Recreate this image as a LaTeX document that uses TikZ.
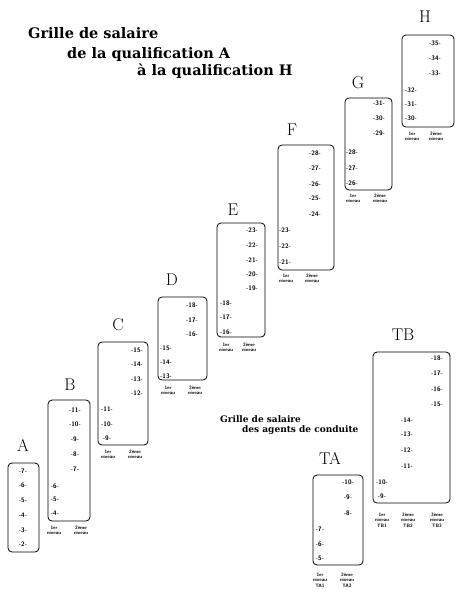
\documentclass[tikz,border=0pt]{standalone}
\usepackage{fontspec}
\newfontfamily\titrefont{DejaVu Serif}
\tikzset{
  cadre/.style={draw=black, line width=0.8pt, rounded corners=4pt},
  echelon/.style={font=\fontsize{6.5}{6.5}\selectfont\sffamily\bfseries, inner sep=0pt},
  niveau/.style={font=\fontsize{4.8}{5.2}\selectfont\sffamily\bfseries, align=center, anchor=north, inner sep=0pt},
  lettre/.style={font=\fontsize{17}{17}\selectfont, inner sep=0pt},
  titre/.style={font=\fontsize{14.5}{14.5}\selectfont\titrefont\bfseries, anchor=mid west, inner sep=0pt},
  soustitre/.style={font=\fontsize{9}{9}\selectfont\titrefont\bfseries, anchor=mid west, inner sep=0pt},
}
% boite d'une qualification : coin haut gauche, coin bas droit
\newcommand{\grille}[4]{\draw[cadre] (#1,#2) rectangle (#3,#4);}
% echelon : qualification, x, y, numero
\newcommand{\ech}[4]{\node[echelon] (#1e#4) at (#2,#3) {-#4-};}
% niveau sous la boite : nom, x, y, texte
\newcommand{\niv}[4]{\node[niveau] (#1) at (#2,#3) {#4};}

\begin{document}
\begin{tikzpicture}[x=1pt,y=-1pt]
\useasboundingbox (0,0) rectangle (463,598);
% titres
\node[titre] (t1) at (28,36) {Grille de salaire};
\node[titre] (t2) at (67,56) {de la qualification A};
\node[titre] (t3) at (137,73) {à la qualification H};
\node[soustitre] (s1) at (220,420) {Grille de salaire};
\node[soustitre] (s2) at (242,430) {des agents de conduite};
% A
\node[lettre] (qA) at (23,445) {A};
\grille{8}{463}{39}{552}
\ech{A}{23}{471}{7}\ech{A}{23}{485}{6}\ech{A}{23}{500}{5}
\ech{A}{23}{515}{4}\ech{A}{23}{530}{3}\ech{A}{23}{544}{2}
% B
\node[lettre] (qB) at (70,385) {B};
\grille{48}{400}{90}{521}
\ech{B}{75}{410}{11}\ech{B}{75}{424}{10}\ech{B}{75}{439}{9}\ech{B}{75}{454}{8}\ech{B}{75}{469}{7}
\ech{B}{55}{486}{6}\ech{B}{55}{499}{5}\ech{B}{55}{513}{4}
\niv{Bn1}{54}{526}{1er\\niveau}\niv{Bn2}{81}{526}{2ème\\niveau}
% C
\node[lettre] (qC) at (118,325) {C};
\grille{98}{342}{148}{445}
\ech{C}{137}{350}{15}\ech{C}{137}{364}{14}\ech{C}{137}{379}{13}\ech{C}{137}{393}{12}
\ech{C}{107}{409}{11}\ech{C}{107}{424}{10}\ech{C}{107}{438}{9}
\niv{Cn1}{108}{450}{1er\\niveau}\niv{Cn2}{135}{450}{2ème\\niveau}
% D
\node[lettre] (qD) at (172,280) {D};
\grille{158}{297}{207}{380}
\ech{D}{192}{305}{18}\ech{D}{192}{320}{17}\ech{D}{192}{334}{16}
\ech{D}{166}{348}{15}\ech{D}{166}{362}{14}\ech{D}{166}{376}{13}
\niv{Dn1}{168}{386}{1er\\niveau}\niv{Dn2}{195}{386}{2ème\\niveau}
% E
\node[lettre] (qE) at (233,210) {E};
\grille{217}{223}{265}{337}
\ech{E}{252}{230}{23}\ech{E}{252}{245}{22}\ech{E}{252}{260}{21}\ech{E}{252}{274}{20}\ech{E}{252}{288}{19}
\ech{E}{226}{303}{18}\ech{E}{226}{317}{17}\ech{E}{226}{332}{16}
\niv{En1}{226}{343}{1er\\niveau}\niv{En2}{249}{343}{2ème\\niveau}
% F
\node[lettre] (qF) at (292,130) {F};
\grille{278}{145}{334}{270}
\ech{F}{315}{153}{28}\ech{F}{315}{168}{27}\ech{F}{315}{184}{26}\ech{F}{315}{198}{25}\ech{F}{315}{214}{24}
\ech{F}{285}{230}{23}\ech{F}{285}{246}{22}\ech{F}{285}{262}{21}
\niv{Fn1}{286}{274}{1er\\niveau}\niv{Fn2}{312}{274}{2ème\\niveau}
% G
\node[lettre] (qG) at (358,83) {G};
\grille{345}{98}{392}{190}
\ech{G}{379}{103}{31}\ech{G}{379}{118}{30}\ech{G}{379}{133}{29}
\ech{G}{352}{152}{28}\ech{G}{352}{168}{27}\ech{G}{352}{183}{26}
\niv{Gn1}{353}{194}{1er\\niveau}\niv{Gn2}{380}{194}{2ème\\niveau}
% H
\node[lettre] (qH) at (425,17) {H};
\grille{402}{35}{454}{127}
\ech{H}{435}{43}{35}\ech{H}{435}{58}{34}\ech{H}{435}{73}{33}
\ech{H}{411}{90}{32}\ech{H}{411}{104}{31}\ech{H}{411}{118}{30}
\niv{Hn1}{412}{132}{1er\\niveau}\niv{Hn2}{436}{132}{2ème\\niveau}
% TA
\node[lettre] (qTA) at (330,458) {TA};
\grille{313}{475}{363}{565}
\ech{TA}{348}{482}{10}\ech{TA}{348}{497}{9}\ech{TA}{348}{513}{8}
\ech{TA}{320}{529}{7}\ech{TA}{320}{544}{6}\ech{TA}{320}{558}{5}
\niv{TAn1}{320}{573}{1er\\niveau\\TA1}\niv{TAn2}{347}{573}{2ème\\niveau\\TA2}
% TB
\node[lettre] (qTB) at (403,335) {TB};
\grille{373}{352}{450}{503}
\ech{TB}{437}{358}{18}\ech{TB}{437}{373}{17}\ech{TB}{437}{389}{16}\ech{TB}{437}{404}{15}
\ech{TB}{407}{420}{14}\ech{TB}{407}{434}{13}\ech{TB}{407}{450}{12}\ech{TB}{407}{466}{11}
\ech{TB}{382}{482}{10}\ech{TB}{382}{496}{9}
\niv{TBn1}{382}{513}{1er\\niveau\\TB1}\niv{TBn2}{408}{513}{2ème\\niveau\\TB2}\niv{TBn3}{437}{513}{3ème\\niveau\\TB3}
\end{tikzpicture}
\end{document}
